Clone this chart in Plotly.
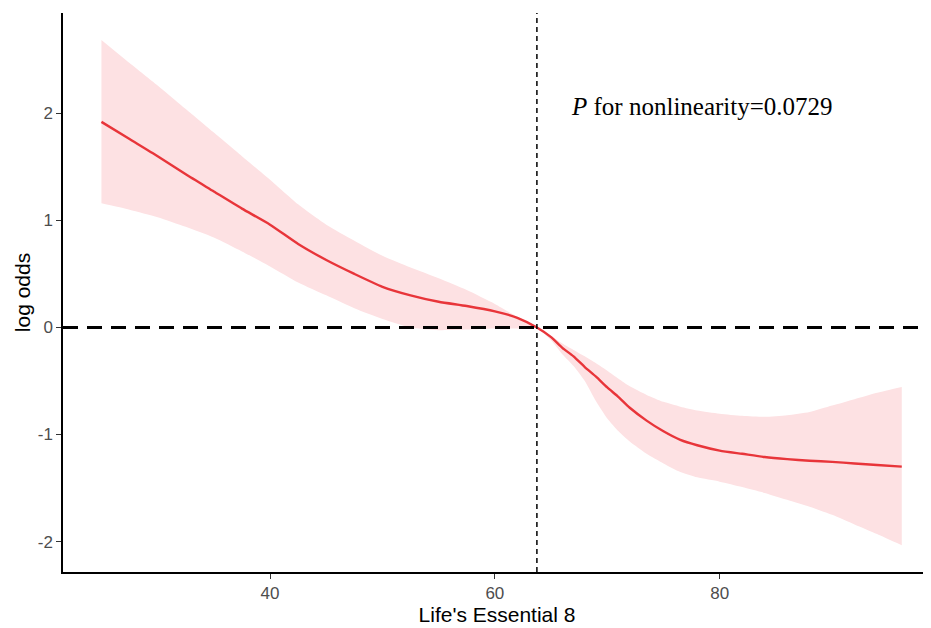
import plotly.graph_objects as go

# Life's Essential 8 score grid
le8 = [25, 27.5, 30, 32.5, 35, 37.5, 40, 42.5, 45, 47.5, 50, 52.5, 55, 57.5, 60, 62, 63.74,
       65, 66, 67, 68, 69, 70, 71, 72, 73.5, 75, 76.5, 78, 80, 82, 84, 86, 88, 90, 92, 94, 96.2]

log_odds = [1.92, 1.76, 1.60, 1.43, 1.27, 1.11, 0.96, 0.78, 0.63, 0.50, 0.38, 0.30, 0.24, 0.20,
            0.15, 0.09, 0.00, -0.09, -0.19, -0.27, -0.37, -0.46, -0.56, -0.65, -0.75, -0.87,
            -0.97, -1.05, -1.10, -1.15, -1.18, -1.21, -1.23, -1.245, -1.255, -1.27, -1.285, -1.30]

upper = [2.685, 2.47, 2.26, 2.04, 1.82, 1.60, 1.38, 1.15, 0.96, 0.81, 0.67, 0.56, 0.46, 0.35,
         0.22, 0.10, 0.01, -0.08, -0.15, -0.21, -0.27, -0.335, -0.405, -0.48, -0.55, -0.63,
         -0.695, -0.74, -0.775, -0.805, -0.825, -0.835, -0.82, -0.79, -0.73, -0.67, -0.61, -0.555]

lower = [1.159, 1.10, 1.03, 0.94, 0.84, 0.71, 0.57, 0.42, 0.30, 0.18, 0.08, 0.00, -0.025, -0.02,
         -0.01, -0.01, -0.01, -0.12, -0.25, -0.36, -0.50, -0.69, -0.85, -0.97, -1.065, -1.18,
         -1.27, -1.35, -1.40, -1.44, -1.49, -1.545, -1.61, -1.675, -1.75, -1.84, -1.93, -2.035]

x_ticks = [40, 60, 80]
y_ticks = [-2, -1, 0, 1, 2]
y_tick_labels = ["-2", "-1", "0", "1", "2"]
ref_x = 63.74
ref_y = 0
annot_text = "<i>P</i> for nonlinearity=0.0729"
annot_pos = (66.6, 2.06)

fig = go.Figure()
fig.add_trace(go.Scatter(x=le8, y=lower, mode="lines", line=dict(width=0, shape="spline", smoothing=0.6),
                         hoverinfo="skip", showlegend=False))
fig.add_trace(go.Scatter(x=le8, y=upper, mode="lines", fill="tonexty", fillcolor="#FDE1E3",
                         line=dict(width=0, shape="spline", smoothing=0.6),
                         hoverinfo="skip", showlegend=False))
fig.add_trace(go.Scatter(x=le8, y=log_odds, mode="lines",
                         line=dict(color="#E8353A", width=2.4, shape="spline", smoothing=0.6),
                         showlegend=False))

fig.add_shape(type="line", xref="paper", x0=0, x1=1, yref="y", y0=ref_y, y1=ref_y,
              line=dict(color="black", width=3, dash="15px,9px"), layer="above")
fig.add_shape(type="line", xref="x", x0=ref_x, x1=ref_x, yref="paper", y0=0, y1=1,
              line=dict(color="black", width=1.5, dash="5px,4px"), layer="above")

fig.add_annotation(x=annot_pos[0], y=annot_pos[1], text=annot_text, showarrow=False,
                   xanchor="left", yanchor="middle",
                   font=dict(family="Liberation Serif", size=25, color="black"))

axis_common = dict(showgrid=False, zeroline=False, showline=True, linecolor="black",
                   linewidth=1.5, ticks="outside", ticklen=5, tickwidth=1, tickcolor="#333333",
                   tickfont=dict(family="Liberation Sans", size=17, color="#4D4D4D"))

fig.update_xaxes(range=[21.58, 98.8], tickvals=x_ticks,
                 title=dict(text="Life's Essential 8", standoff=4,
                            font=dict(family="Liberation Sans", size=21, color="black")),
                 **axis_common)
fig.update_yaxes(range=[-2.284, 2.937], tickvals=y_ticks, ticktext=y_tick_labels,
                 title=dict(text="log odds", standoff=1,
                            font=dict(family="Liberation Sans", size=21, color="black")),
                 **axis_common)

fig.update_layout(width=923, height=620, margin=dict(l=55, r=0, t=5, b=56, autoexpand=False),
                  plot_bgcolor="white", paper_bgcolor="white", showlegend=False)

fig.write_html("out.html")
